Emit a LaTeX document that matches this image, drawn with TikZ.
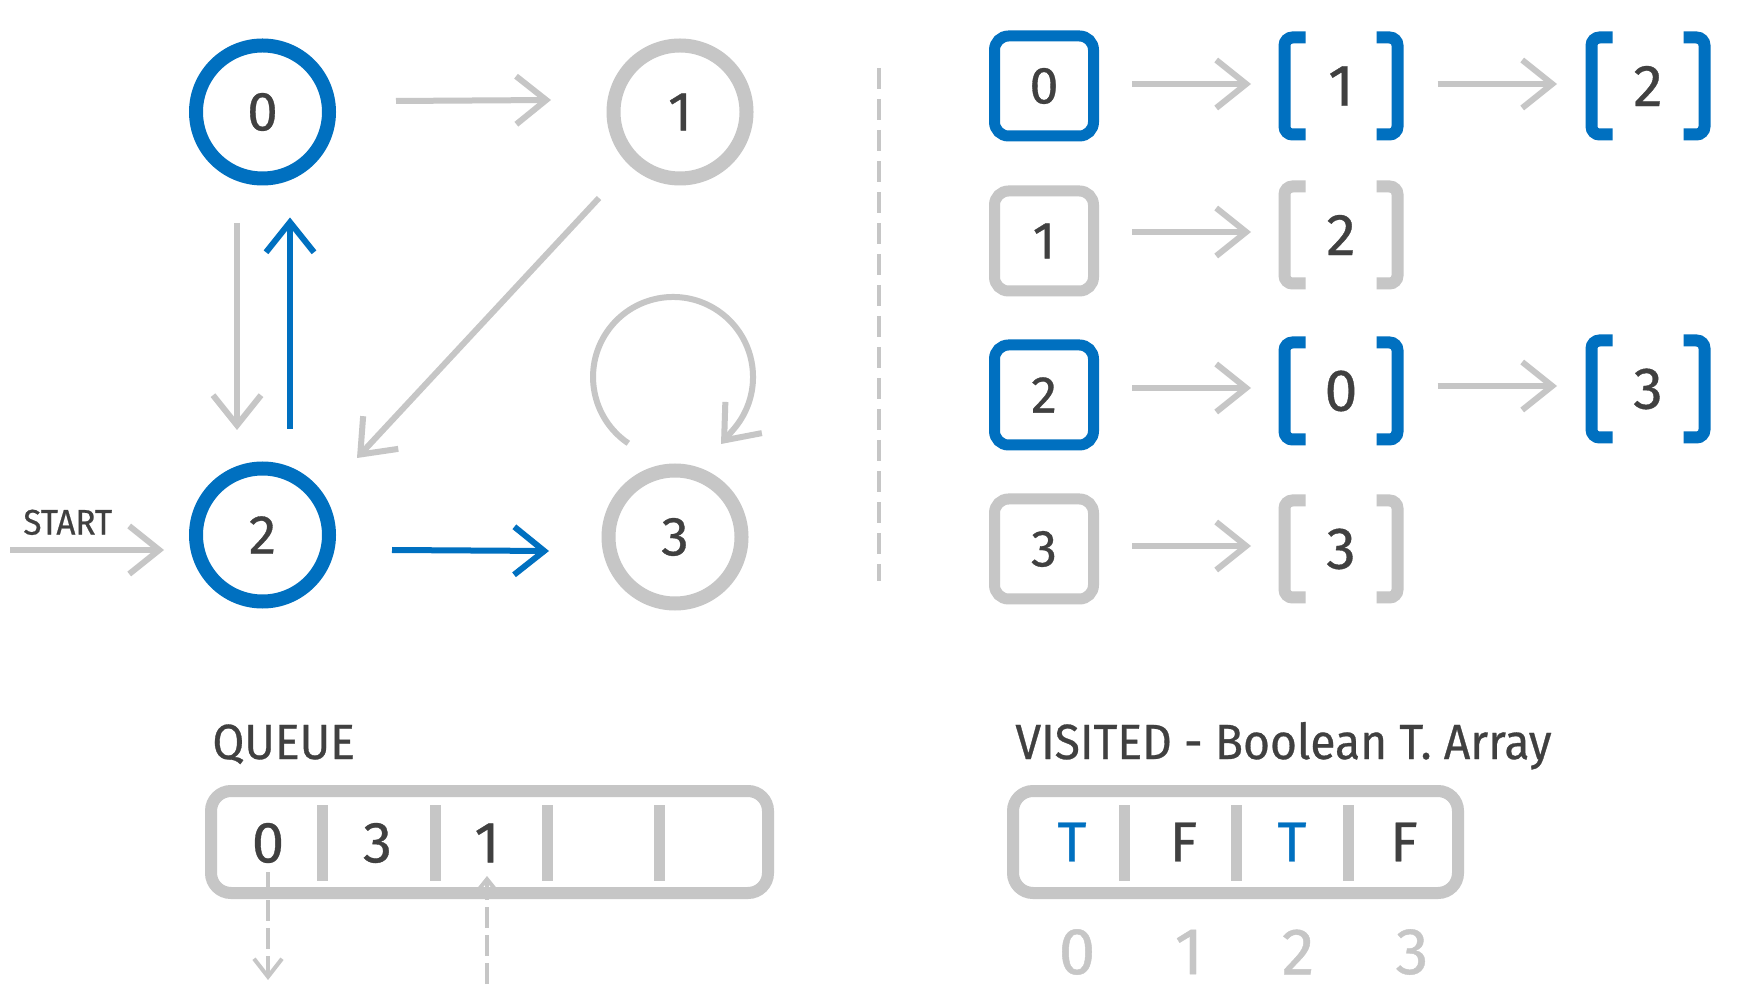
\documentclass[tikz,border=0pt]{standalone}
\usepackage{fontspec}
\setmainfont{Fira Sans}[FakeBold=0.6]
\newfontfamily\titlefont{Fira Sans}[FakeBold=0.6, FakeStretch=0.935]
\usetikzlibrary{arrows.meta,bending}
\definecolor{myblue}{HTML}{0070C0}
\definecolor{mygray}{HTML}{C6C6C6}
\definecolor{mytext}{HTML}{404040}
\newcommand\drawbrk[2]{%
  \draw[draw=#2, line width=6pt, rounded corners=4pt, line cap=butt]
    ([xshift=10.5pt]#1.north west) -- (#1.north west) -- (#1.south west) -- ([xshift=10.5pt]#1.south west);
  \draw[draw=#2, line width=6pt, rounded corners=4pt, line cap=butt]
    ([xshift=-10.5pt]#1.north east) -- (#1.north east) -- (#1.south east) -- ([xshift=-10.5pt]#1.south east);}
\begin{document}
\begin{tikzpicture}[x=0.5pt,y=-0.5pt,
  every node/.style={text=mytext, inner sep=0pt},
  cnode/.style={circle, draw=#1, line width=7pt, minimum size=66.5pt, font=\fontsize{27.5}{30}\selectfont},
  sq/.style={rectangle, rounded corners=7pt, draw=#1, line width=5.5pt, minimum width=49.5pt, minimum height=50pt, font=\fontsize{26}{28}\selectfont},
  brk/.style={rectangle, outer sep=0pt, minimum width=56.5pt, minimum height=48.5pt, font=\fontsize{29.5}{30}\selectfont},
  garrow/.style={draw=mygray, line width=3pt, -{Straight Barb[length=15pt, width=24pt]}},
  barrow/.style={garrow, draw=myblue},
  qarrow/.style={draw=mygray, line width=2pt, dash pattern=on 10.5pt off 3.5pt},
  box/.style={rectangle, rounded corners=10pt, draw=mygray, line width=6pt, minimum height=51pt},
  div/.style={draw=mygray, line width=5.5pt},
  cell/.style={font=\fontsize{29}{30}\selectfont},
  tf/.style={font=\fontsize{28}{30}\selectfont},
  idx/.style={text=mygray, font=\fontsize{33}{34}\selectfont},
  title/.style={anchor=base west, font=\titlefont\fontsize{24.7}{26}\selectfont},
  sep/.style={draw=mygray, line width=2pt, dash pattern=on 10.5pt off 5pt}
]
\fill[white] (0,0) rectangle (1744,1004);
\useasboundingbox (0,0) rectangle (1744,1004);

% ---- graph ----
\node[cnode=myblue] (n0) at (262.5,112) {0};
\node[cnode=mygray] (n1) at (680,112) {1};
\node[cnode=myblue] (n2) at (262.5,535) {2};
\node[cnode=mygray] (n3) at (675,537) {3};
\coordinate (start) at (10,550);
\node[anchor=base west, font=\titlefont\fontsize{17.8}{20}\selectfont] (startlbl) at (23,534.6) {START};

\draw[garrow] ([shift={(133.5,-11)}]n0.center) -- ([shift={(-129,-12)}]n1.center);
\draw[garrow] ([shift={(-25.5,111)}]n0.center) -- ([shift={(-25.5,-105)}]n2.center);
\draw[barrow] ([shift={(27.5,-106)}]n2.center) -- ([shift={(27.5,105.5)}]n0.center);
\draw[garrow] ([shift={(-81,86)}]n1.center) -- ([shift={(94.5,-77)}]n2.center);
\draw[barrow] ([shift={(129.5,15)}]n2.center) -- ([shift={(-126,14)}]n3.center);
\draw[garrow] (start) -- ([shift={(-98.5,15)}]n2.center);
\draw[draw=mygray, line width=3pt, -{Straight Barb[length=15pt, width=24pt, quick]}]
  ([shift={(-46.7,-93.7)}]n3.center) arc[start angle=124, end angle=400, radius=80]
  -- ([shift={(46,-93)}]n3.center);

% ---- separator ----
\draw[sep] (879,68) -- (879,581);

% ---- adjacency list ----
\node[sq=myblue] (s0) at (1044,86) {0};
\node[sq=mygray] (s1) at (1044,241) {1};
\node[sq=myblue] (s2) at (1044,395) {2};
\node[sq=mygray] (s3) at (1044,549) {3};

\node[brk] (b01) at (1341,86) {1};
\node[brk] (b02) at (1648,86) {2};
\node[brk] (b11) at (1341,235) {2};
\node[brk] (b21) at (1341,391) {0};
\node[brk] (b22) at (1648,389) {3};
\node[brk] (b31) at (1341,549) {3};
\drawbrk{b01}{myblue}
\drawbrk{b02}{myblue}
\drawbrk{b11}{mygray}
\drawbrk{b21}{myblue}
\drawbrk{b22}{myblue}
\drawbrk{b31}{mygray}

\draw[garrow] ([shift={(88,-2)}]s0.center) -- ([shift={(-90,-2)}]b01.center);
\draw[garrow] ([shift={(96.5,-2)}]b01.center) -- ([shift={(-91,-2)}]b02.center);
\draw[garrow] ([shift={(88,-9)}]s1.center) -- ([shift={(-90,-3)}]b11.center);
\draw[garrow] ([shift={(88,-7)}]s2.center) -- ([shift={(-90,-3)}]b21.center);
\draw[garrow] ([shift={(96.5,-5)}]b21.center) -- ([shift={(-91,-3)}]b22.center);
\draw[garrow] ([shift={(88,-3)}]s3.center) -- ([shift={(-90,-3)}]b31.center);

% ---- queue ----
\node[title] (tq) at (212,759) {QUEUE};
\node[cell] (q0) at (268,843) {0};
\node[cell] (q1) at (377.5,843) {3};
\node[cell] (q2) at (487,843) {1};
\coordinate (qout) at (268,980);
\coordinate (qin) at (487,984);
\draw[qarrow, -{Straight Barb[length=9pt, width=14pt]}] ([yshift=-14.5pt]q0.center) -- (qout);
\draw[qarrow, -{Straight Barb[length=7.5pt, width=12pt]}] (qin) -- ([yshift=-16.5pt]q2.center);
\node[box, minimum width=278.5pt] (qbox) at (489.5,842) {};
\foreach \x in {322.5,435,547,659} \draw[div] (\x,805) -- (\x,881);

% ---- visited ----
\node[title] (tv) at (1015,759) {VISITED - Boolean T. Array};
\node[box, minimum width=222.5pt] (vbox) at (1235.5,842) {};
\foreach \x in {1124.6,1236.5,1348.8} \draw[div] (\x,805) -- (\x,881);
\node[tf, text=myblue] (v0) at (1072,842) {T};
\node[tf] (v1) at (1183.5,842) {F};
\node[tf, text=myblue] (v2) at (1292,842) {T};
\node[tf] (v3) at (1404,842) {F};
\node[idx] (i0) at (1077,952) {0};
\node[idx] (i1) at (1189,952) {1};
\node[idx] (i2) at (1298,952) {2};
\node[idx] (i3) at (1412,952) {3};
\end{tikzpicture}
\end{document}
